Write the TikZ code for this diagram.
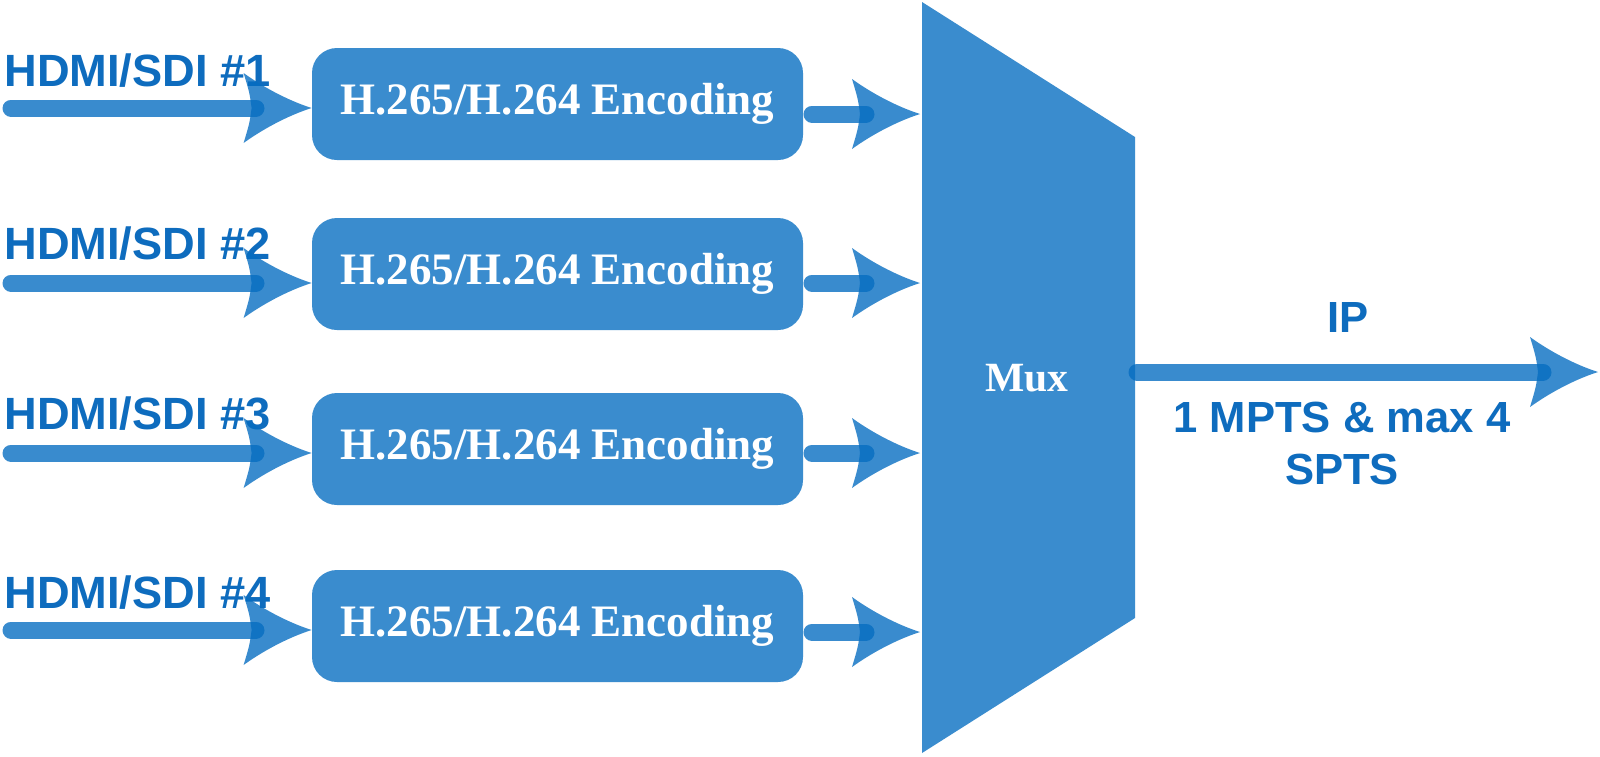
\documentclass[tikz,border=0pt]{standalone}
\usepackage{fontspec}
\setmainfont{Liberation Serif}
\setsansfont{Liberation Sans}
\definecolor{boxblue}{RGB}{58,140,206}
\definecolor{arrblue}{RGB}{5,109,193}
\definecolor{txtblue}{RGB}{14,108,190}
\tikzset{
 encbox/.style={fill=boxblue, rounded corners=12.5pt, minimum width=245.5pt, minimum height=56pt, text=white, font=\bfseries\fontsize{22.5}{27}\selectfont, inner sep=0pt},
 inlabel/.style={text=txtblue, font=\sffamily\bfseries\fontsize{22.6}{27}\selectfont, inner sep=0pt, anchor=base west},
 outlabel/.style={text=txtblue, font=\sffamily\bfseries\fontsize{21.8}{26}\selectfont, inner sep=0pt, anchor=base},
 muxtext/.style={text=white, font=\bfseries\fontsize{20.8}{25}\selectfont, inner sep=0pt, anchor=base},
 shaft/.style={draw=arrblue, line width=8.5pt, line cap=round, opacity=0.79},
 headfill/.style={fill=arrblue, opacity=0.79},
}
\newcommand\headat[1]{\fill[headfill, shift={(#1)}] (0,0) .. controls (-25,-8) and (-50,-22) .. (-68,-35) .. controls (-62,-15) .. (-60,0) .. controls (-62,15) .. (-68,35) .. controls (-50,22) and (-25,8) .. (0,0) -- cycle;}
\begin{document}
\begin{tikzpicture}[x=0.5pt,y=-0.5pt]
\useasboundingbox (0,0) rectangle (1600,756);
\fill[white] (0,0) rectangle (1600,756);
% mux
\coordinate (m1) at (922,2);
\coordinate (m2) at (1135,137);
\coordinate (m3) at (1135,618);
\coordinate (m4) at (922,753);
\fill[boxblue] (m1) -- (m2) -- (m3) -- (m4) -- cycle;
\node[muxtext] (mux) at (1027,391) {Mux};
\coordinate (mtip) at (920,2);
% rows
\foreach \i/\by/\iy/\oy/\ly in {1/104/108/114/86,2/274/283/283/259,3/449/453/453/429,4/626/630/632/608}{
 \node[encbox] (b\i) at (557.5,\by) {H.265/H.264 Encoding};
 \node[inlabel] (l\i) at (4,\ly) {HDMI/SDI \#\i};
 \coordinate (s\i) at (11,\iy);
 \coordinate (e\i) at (256,\iy);
 \coordinate (t\i) at (b\i.west |- s\i);
 \draw[shaft] (s\i) -- (e\i);
 \headat{t\i}
 \coordinate (os\i) at (812,\oy);
 \coordinate (oe\i) at (866,\oy);
 \coordinate (ot\i) at (mtip |- os\i);
 \draw[shaft] (os\i) -- (oe\i);
 \headat{ot\i}
}
% output
\coordinate (ms) at (1137,372);
\coordinate (me) at (1543,372);
\coordinate (mt) at (1598,372);
\draw[shaft] (ms) -- (me);
\headat{mt}
\node[outlabel] (ip) at (1348,332) {IP};
\node[outlabel] (ts1) at (1342,432) {1 MPTS \& max 4};
\node[outlabel] (ts2) at (1342,484) {SPTS};
\end{tikzpicture}
\end{document}
